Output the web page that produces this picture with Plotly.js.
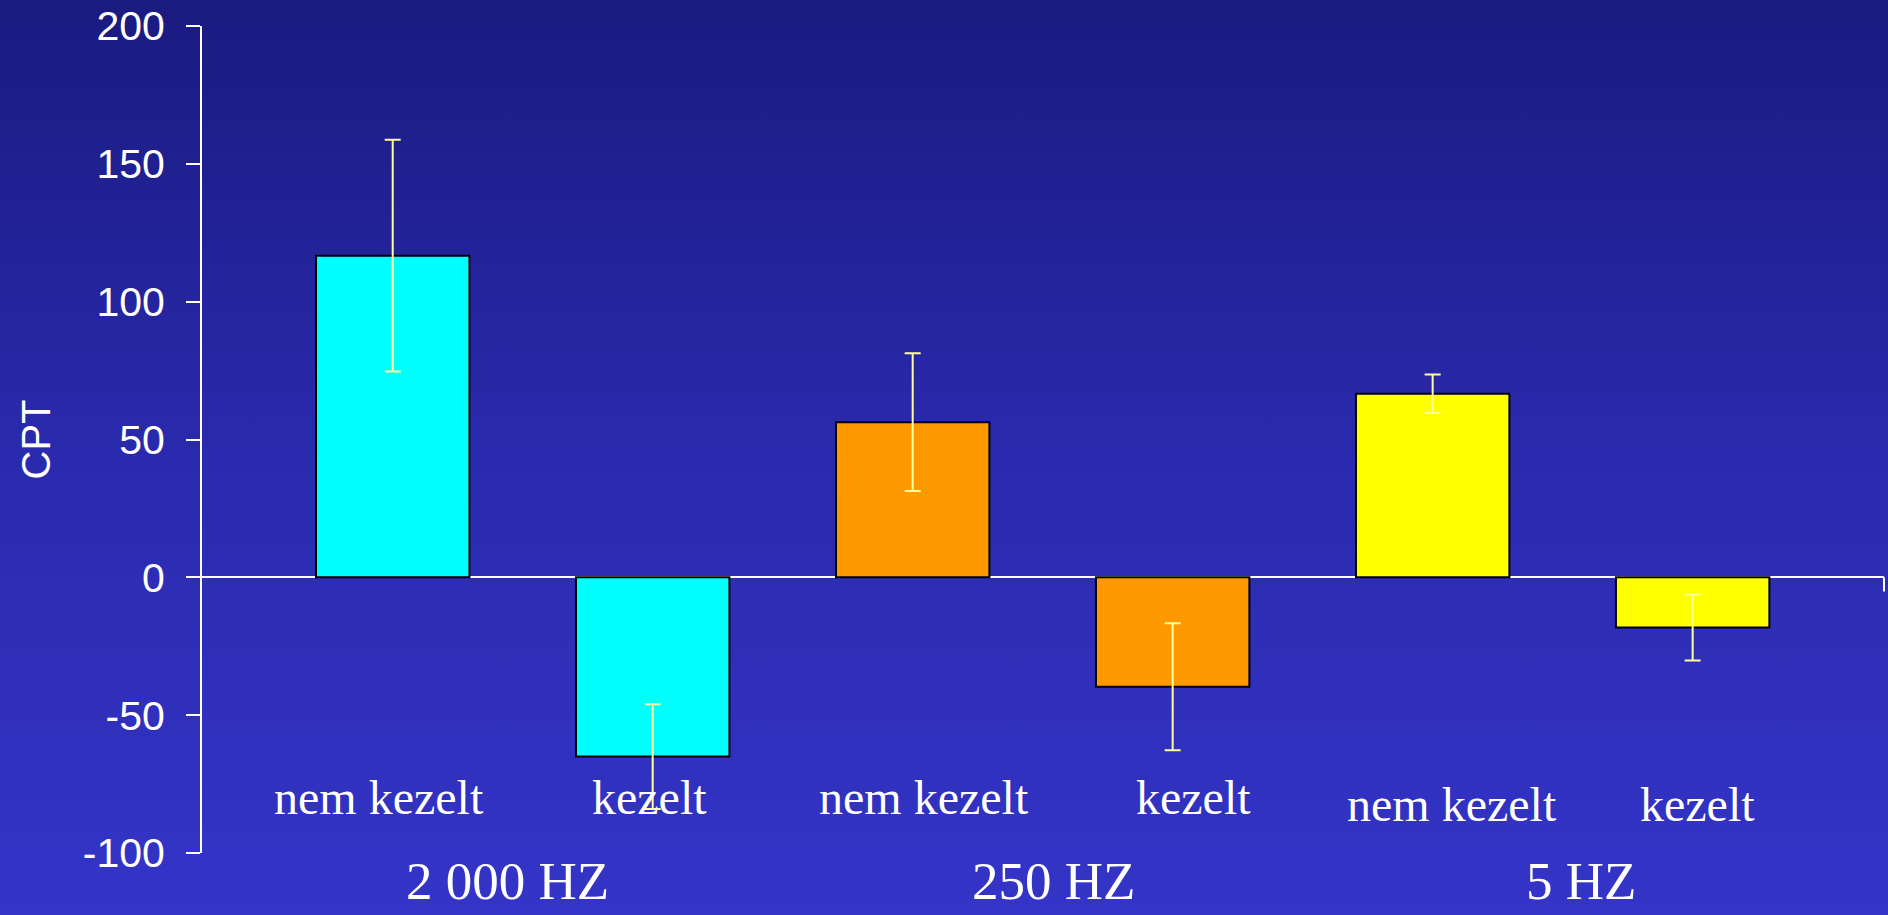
<!DOCTYPE html>
<html>
<head>
<meta charset="utf-8">
<script src="https://cdn.plot.ly/plotly-3.0.1.min.js"></script>
<style>
  html, body { margin: 0; padding: 0; width: 1888px; height: 915px; overflow: hidden;
    background: linear-gradient(to bottom, #1a1a80 0%, #2a2aae 50%, #3434c8 100%); }
  #chart { width: 1888px; height: 915px; }
</style>
</head>
<body>
<div id="chart"></div>
<script>
// Data
const categories = ['nem kezelt', 'kezelt', 'nem kezelt', 'kezelt', 'nem kezelt', 'kezelt'];
const groups = ['2 000 HZ', '250 HZ', '5 HZ'];
const values = [116.7, -65.0, 56.3, -39.7, 66.6, -18.2];
const errors = [42, 19, 25, 23, 7, 12];
const barColors = ['#00ffff', '#00ffff', '#ff9900', '#ff9900', '#ffff00', '#ffff00'];
const yTicks = [-100, -50, 0, 50, 100, 150, 200];

const xs = categories.map((_, i) => i);

const trace = {
  type: 'bar',
  x: xs,
  y: values,
  marker: { color: barColors, line: { color: '#000000', width: 2 } },
  error_y: { type: 'data', array: errors, visible: true, color: '#ffff99', thickness: 2, width: 8 },
  hoverinfo: 'skip'
};

// label offsets relative to each bar slot (layout only)
const catDx = [-0.053, -0.014, 0.042, 0.080, 0.073, 0.019];
const catY = [-80, -80, -80, -80, -82.4, -82.4];
const annotations = categories.map((c, i) => ({
  text: c, xref: 'x', yref: 'y', x: i + catDx[i], y: catY[i],
  showarrow: false, xanchor: 'center', yanchor: 'middle',
  font: { family: 'Liberation Serif, Times New Roman, serif', size: 48, color: '#ffffff' }
}));
const groupX = [0.4415, 2.5415, 4.570];
groups.forEach((g, i) => annotations.push({
  text: g, xref: 'x', yref: 'paper', x: groupX[i], y: -0.034,
  showarrow: false, xanchor: 'center', yanchor: 'middle',
  font: { family: 'Liberation Serif, Times New Roman, serif', size: 53, color: '#ffffff' }
}));

const layout = {
  width: 1888, height: 915,
  margin: { l: 202, r: 4, t: 26, b: 62, pad: 0 },
  paper_bgcolor: 'rgba(0,0,0,0)',
  plot_bgcolor: 'rgba(0,0,0,0)',
  showlegend: false,
  bargap: 0.41,
  xaxis: {
    range: [-0.7335, 5.736], showticklabels: false, showgrid: false,
    zeroline: false, showline: false, ticks: '', fixedrange: true
  },
  yaxis: {
    range: [-100, 200], tickvals: yTicks, ticktext: yTicks.map(String),
    showgrid: false, zeroline: true, zerolinecolor: '#ffffff', zerolinewidth: 2,
    showline: true, linecolor: '#ffffff', linewidth: 2,
    ticks: 'outside', ticklen: 14, tickwidth: 2, tickcolor: '#ffffff',
    ticklabelstandoff: 13,
    tickfont: { family: 'Liberation Sans, Arial, sans-serif', size: 41, color: '#ffffff' },
    title: { text: 'CPT', standoff: 20,
      font: { family: 'Liberation Sans, Arial, sans-serif', size: 40, color: '#ffffff' } },
    automargin: false, fixedrange: true
  },
  shapes: [
    { type: 'line', xref: 'paper', yref: 'y', x0: 1, x1: 1, y0: 0, y1: -5.1,
      line: { color: '#ffffff', width: 2 } }
  ],
  annotations: annotations
};

Plotly.newPlot('chart', [trace], layout, { displayModeBar: false, staticPlot: true });
</script>
</body>
</html>
